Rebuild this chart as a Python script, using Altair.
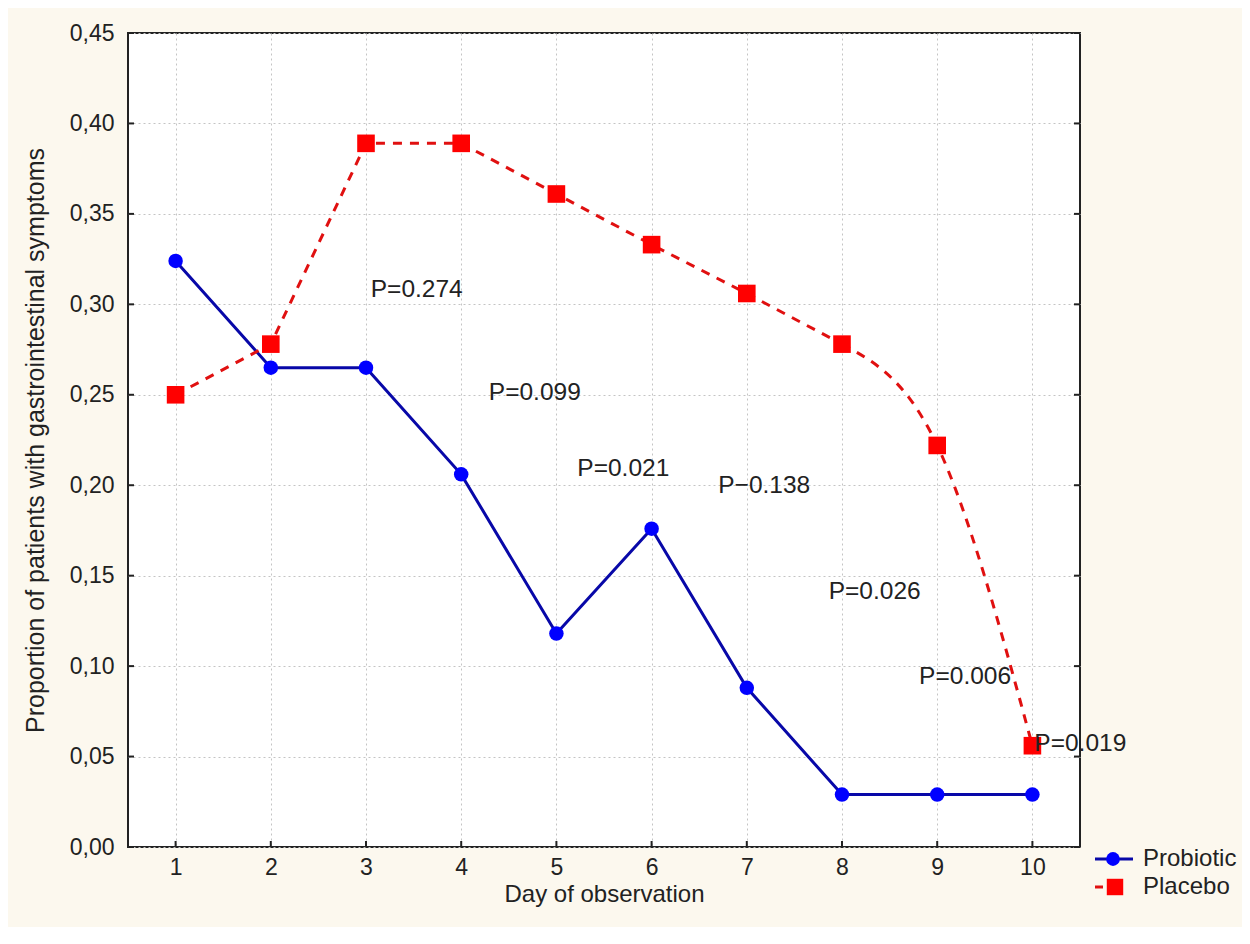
import altair as alt
import pandas as pd

days = [1, 2, 3, 4, 5, 6, 7, 8, 9, 10]
probiotic = [0.324, 0.265, 0.265, 0.206, 0.118, 0.176, 0.088, 0.029, 0.029, 0.029]
placebo = [0.250, 0.278, 0.389, 0.389, 0.361, 0.333, 0.306, 0.278, 0.222, 0.056]
series_names = ["Probiotic", "Placebo"]

p_labels = ["P=0.274", "P=0.099", "P=0.021", "P\u22120.138", "P=0.026", "P=0.006", "P=0.019"]
p_x = [3.05, 4.29, 5.22, 6.70, 7.86, 8.81, 10.02]
p_y = [0.308, 0.251, 0.209, 0.1996, 0.141, 0.094, 0.057]

y_ticks = [0, 0.05, 0.10, 0.15, 0.20, 0.25, 0.30, 0.35, 0.40, 0.45]

W, H = 952, 814
FONT = "Liberation Sans"

df_pro = pd.DataFrame({"day": days, "value": probiotic})
df_pla = pd.DataFrame({"day": days, "value": placebo})
df_pla_a = df_pla[df_pla["day"] <= 8]
df_pla_b = df_pla[df_pla["day"] >= 8]
df_p = pd.DataFrame({"x": p_x, "y": p_y, "label": p_labels})
df_xt = pd.DataFrame({"day": days})
df_yt = pd.DataFrame({"v": y_ticks})

xs = alt.Scale(domain=[0.5, 10.5], nice=False, zero=False)
ys = alt.Scale(domain=[0, 0.45], nice=False, zero=True)

xaxis = alt.Axis(values=days, format="d", title="Day of observation", grid=True, gridDash=[2, 3],
                 gridColor="#c4c4c4", gridWidth=1, ticks=False, domain=False,
                 labelFont=FONT, labelFontSize=23, labelColor="#222", labelPadding=9,
                 titleFont=FONT, titleFontSize=24, titleFontWeight="normal", titleColor="#222",
                 titleBaseline="middle", titleY=47)
yaxis = alt.Axis(values=y_ticks, title="Proportion of patients with gastrointestinal symptoms",
                 grid=True, gridDash=[2, 3], gridColor="#c4c4c4", gridWidth=1, ticks=False,
                 domain=False, labelExpr="replace(format(datum.value, '.2f'), '.', ',')",
                 labelFont=FONT, labelFontSize=23, labelColor="#222", labelPadding=14,
                 titleFont=FONT, titleFontSize=25, titleFontWeight="normal", titleColor="#222",
                 titlePadding=21)

base_pro = alt.Chart(df_pro).encode(
    x=alt.X("day:Q", scale=xs, axis=xaxis),
    y=alt.Y("value:Q", scale=ys, axis=yaxis),
)
pro_line = base_pro.mark_line(color="#0808a8", strokeWidth=3)
pro_pts = base_pro.mark_point(shape="circle", filled=True, color="#0000ff", size=210, opacity=1)

pla_line_a = alt.Chart(df_pla_a).mark_line(color="#e01010", strokeWidth=3,
                                           strokeDash=[9, 8]).encode(
    x=alt.X("day:Q", scale=xs), y=alt.Y("value:Q", scale=ys))
pla_line_b = alt.Chart(df_pla_b).mark_line(color="#e01010", strokeWidth=3,
                                           strokeDash=[9, 8], interpolate="monotone").encode(
    x=alt.X("day:Q", scale=xs), y=alt.Y("value:Q", scale=ys))
pla_pts = alt.Chart(df_pla).mark_point(shape="square", filled=True, color="#ff0000",
                                       size=310, opacity=1).encode(
    x=alt.X("day:Q", scale=xs), y=alt.Y("value:Q", scale=ys))

ptext = alt.Chart(df_p).mark_text(align="left", baseline="middle", font=FONT,
                                  fontSize=24.5, color="#222").encode(
    x=alt.X("x:Q", scale=xs), y=alt.Y("y:Q", scale=ys), text="label:N")

# inward ticks
xt = alt.Chart(df_xt).mark_rule(color="#222", strokeWidth=2).encode(
    x=alt.X("day:Q", scale=xs), y=alt.value(H), y2=alt.value(H - 6))
ytl = alt.Chart(df_yt).mark_rule(color="#222", strokeWidth=2).encode(
    y=alt.Y("v:Q", scale=ys), x=alt.value(0), x2=alt.value(6))
ytr = alt.Chart(df_yt).mark_rule(color="#222", strokeWidth=2).encode(
    y=alt.Y("v:Q", scale=ys), x=alt.value(W), x2=alt.value(W - 6))

# legend (manual)
LX = W + 15
Y1, Y2 = H + 12, H + 40
leg_df = pd.DataFrame({"name": series_names})
one = leg_df.iloc[[0]]
leg1_line = alt.Chart(one).mark_rule(color="#0808a8", strokeWidth=3).encode(
    x=alt.value(LX), x2=alt.value(LX + 38), y=alt.value(Y1))
leg1_pt = alt.Chart(one).mark_point(shape="circle", filled=True, color="#0000ff",
                                    size=190, opacity=1).encode(
    x=alt.value(LX + 18), y=alt.value(Y1))
leg2_line = alt.Chart(one).mark_rule(color="#e01010", strokeWidth=3,
                                     strokeDash=[8, 30]).encode(
    x=alt.value(LX), x2=alt.value(LX + 38), y=alt.value(Y2))
leg2_pt = alt.Chart(one).mark_point(shape="square", filled=True, color="#ff0000",
                                    size=270, opacity=1).encode(
    x=alt.value(LX + 20), y=alt.value(Y2))
leg_t1 = alt.Chart(one).mark_text(align="left", baseline="middle", font=FONT, fontSize=24,
                                  color="#222").encode(
    x=alt.value(LX + 48), y=alt.value(Y1), text=alt.value(series_names[0]))
leg_t2 = alt.Chart(one).mark_text(align="left", baseline="middle", font=FONT, fontSize=24,
                                  color="#222").encode(
    x=alt.value(LX + 48), y=alt.value(Y2), text=alt.value(series_names[1]))

chart = alt.layer(
    pro_line, pla_line_a, pla_line_b, pro_pts, pla_pts, ptext, xt, ytl, ytr,
    leg1_line, leg1_pt, leg2_line, leg2_pt, leg_t1, leg_t2,
).properties(
    width=W, height=H,
    background="#fcf8ee",
    padding={"left": 120, "top": 25, "right": 162, "bottom": 80},
    autosize=alt.AutoSizeParams(type="none"),
).configure_view(fill="white", stroke="#222", strokeWidth=2)

chart.save("out.html", embed_options={"renderer": "svg", "actions": False})
